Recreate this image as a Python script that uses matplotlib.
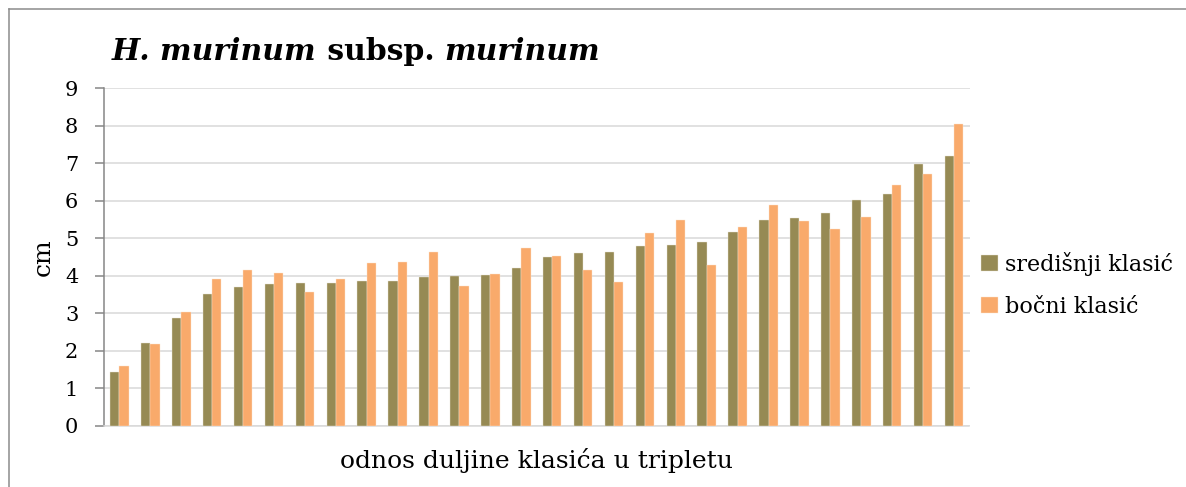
import matplotlib
matplotlib.use("Agg")
import matplotlib.pyplot as plt
import numpy as np
from matplotlib.lines import Line2D

# vrijednosti ocitane s grafa (cm)
sredisnji = [1.44, 2.21, 2.86, 3.51, 3.71, 3.77, 3.81, 3.81, 3.87, 3.87,
             3.97, 3.98, 4.02, 4.20, 4.50, 4.61, 4.63, 4.79, 4.81, 4.89,
             5.18, 5.48, 5.54, 5.67, 6.01, 6.17, 6.99, 7.19]
bocni = [1.58, 2.17, 3.02, 3.92, 4.16, 4.07, 3.56, 3.90, 4.34, 4.36,
         4.63, 3.73, 4.05, 4.74, 4.53, 4.15, 3.83, 5.13, 5.48, 4.28,
         5.30, 5.90, 5.45, 5.24, 5.57, 6.42, 6.71, 8.04]
yticks = list(range(0, 10))

plt.rcParams['font.family'] = ['DejaVu Serif']

W, H = 1186, 487
fig = plt.figure(figsize=(W / 100, H / 100), dpi=100)

# okvir: samo lijeva i gornja crta su vidljive
fx, fy = 8.5 / W, 1 - 9.3 / H
fig.add_artist(Line2D([fx, fx], [0, fy], transform=fig.transFigure,
                      color='#8c8c8c', linewidth=1.1))
fig.add_artist(Line2D([fx, 1], [fy, fy], transform=fig.transFigure,
                      color='#8c8c8c', linewidth=1.1))

ax = fig.add_axes([104 / W, 1 - 425.7 / H, (969.5 - 104) / W, (425.7 - 88.3) / H])

x = np.arange(len(sredisnji))
bw = 0.3
ax.bar(x - bw / 2, sredisnji, bw, color='#968A54', edgecolor='#e9e4d4', linewidth=0.3,
       zorder=3, label='središnji klasić')
ax.bar(x + bw / 2, bocni, bw, color='#F9AA6B', edgecolor='#fde3cc', linewidth=0.3,
       zorder=3, label='bočni klasić')

ax.set_xlim(-0.5, len(sredisnji) - 0.5)
ax.set_ylim(0, 9)
ax.set_yticks(yticks)
ax.set_xticks([])
ax.yaxis.grid(True, color='#d9d9d9', linewidth=1.1, zorder=0)
ax.set_axisbelow(True)

for s in ['top', 'right']:
    ax.spines[s].set_visible(False)
ax.spines['left'].set_color('#868686')
ax.spines['left'].set_linewidth(1.1)
ax.spines['bottom'].set_color('#d9d9d9')
ax.spines['bottom'].set_linewidth(1.1)
ax.tick_params(axis='y', direction='out', length=6.5, width=1.1, color='#868686',
               pad=12, labelsize=15)

ax.set_ylabel('cm', fontsize=18, labelpad=7)
ax.set_xlabel('odnos duljine klasića u tripletu', fontsize=18, labelpad=16)

leg = fig.legend(loc='center left', bbox_to_anchor=(972 / W, 1 - 285 / H),
                 frameon=False, fontsize=16, handlelength=0.75, handleheight=0.75,
                 handletextpad=0.35, labelspacing=0.9, borderaxespad=0)

# naslov: dijelovi u kurzivu i normalnom rezu
fs = 21.5
t1 = fig.text(112 / W, 1 - 60 / H, 'H. murinum', fontsize=fs, fontweight='bold',
              fontstyle='italic', va='baseline')
t2 = fig.text(0, 0, ' subsp. ', fontsize=fs, fontweight='bold')
t3 = fig.text(0, 0, 'murinum', fontsize=fs, fontweight='bold', fontstyle='italic')
fig.canvas.draw()
r = fig.canvas.get_renderer()
prev = t1
for t in (t2, t3):
    bb = prev.get_window_extent(r)
    t.set_position((bb.x1 / W, 1 - 60 / H))
    t.set_va('baseline')
    fig.canvas.draw()
    prev = t

fig.savefig('out.png', dpi=100)
